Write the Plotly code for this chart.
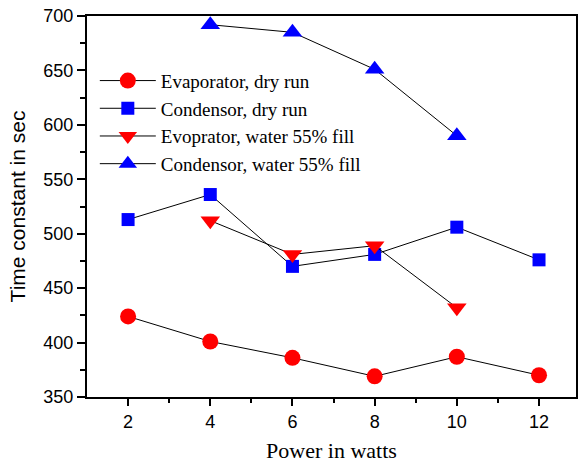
import plotly.graph_objects as go

power = [2, 4, 6, 8, 10, 12]
evap_dry = [424, 401, 386, 369, 387, 370]
cond_dry = [513, 536, 470, 481, 506, 476]
power_wet = [4, 6, 8, 10]
evap_wet = [512, 481, 489, 432]
cond_wet = [692, 685, 651, 590]

names = ["Evaporator, dry run", "Condensor, dry run",
         "Evoprator, water 55% fill", "Condensor, water 55% fill"]

fig = go.Figure()
series = [
    (power, evap_dry, names[0], "circle", "#ff0000", 16),
    (power, cond_dry, names[1], "square", "#0000ff", 13),
    (power_wet, evap_wet, names[2], "triangle-down", "#ff0000", 17),
    (power_wet, cond_wet, names[3], "triangle-up", "#0000ff", 17),
]
for x, y, n, sym, col, sz in series:
    fig.add_trace(go.Scatter(
        x=x, y=y, name=n, mode="lines+markers",
        line=dict(color="black", width=1),
        marker=dict(symbol=sym, color=col, size=sz, line=dict(width=0)),
    ))

fig.update_layout(
    width=578, height=463,
    margin=dict(l=87, r=0, t=16, b=66),
    paper_bgcolor="white", plot_bgcolor="white",
    showlegend=True,
    legend=dict(x=0.016, y=0.88, xanchor="left", yanchor="top",
                bgcolor="rgba(0,0,0,0)",
                font=dict(family="Liberation Serif", size=19, color="black"),
                itemwidth=56, tracegroupgap=0),
    font=dict(family="Liberation Sans", size=18, color="black"),
)
fig.update_xaxes(
    range=[1, 12.9], tickvals=[2, 4, 6, 8, 10, 12],
    ticks="outside", ticklen=7, tickwidth=1.5, tickcolor="black",
    showline=True, linecolor="black", linewidth=2, mirror=True,
    showgrid=False, zeroline=False,
    minor=dict(tickvals=[3, 5, 7, 9, 11], ticks="outside", ticklen=4,
               tickcolor="black", tickwidth=1.5),
    tickfont=dict(family="Liberation Sans", size=18),
    title=dict(text="Power in watts", standoff=14,
               font=dict(family="Liberation Serif", size=22)),
)
fig.update_yaxes(
    range=[350, 700], tickvals=[350, 400, 450, 500, 550, 600, 650, 700],
    ticks="outside", ticklen=8, tickwidth=1.5, tickcolor="black",
    showline=True, linecolor="black", linewidth=2, mirror=True,
    showgrid=False, zeroline=False,
    minor=dict(tickvals=[375, 425, 475, 525, 575, 625, 675], ticks="outside",
               ticklen=5, tickcolor="black", tickwidth=1.5),
    tickfont=dict(family="Liberation Sans", size=18),
    title=dict(text="Time constant in sec", standoff=12,
               font=dict(family="Liberation Sans", size=21)),
)
fig.write_html("out.html")
